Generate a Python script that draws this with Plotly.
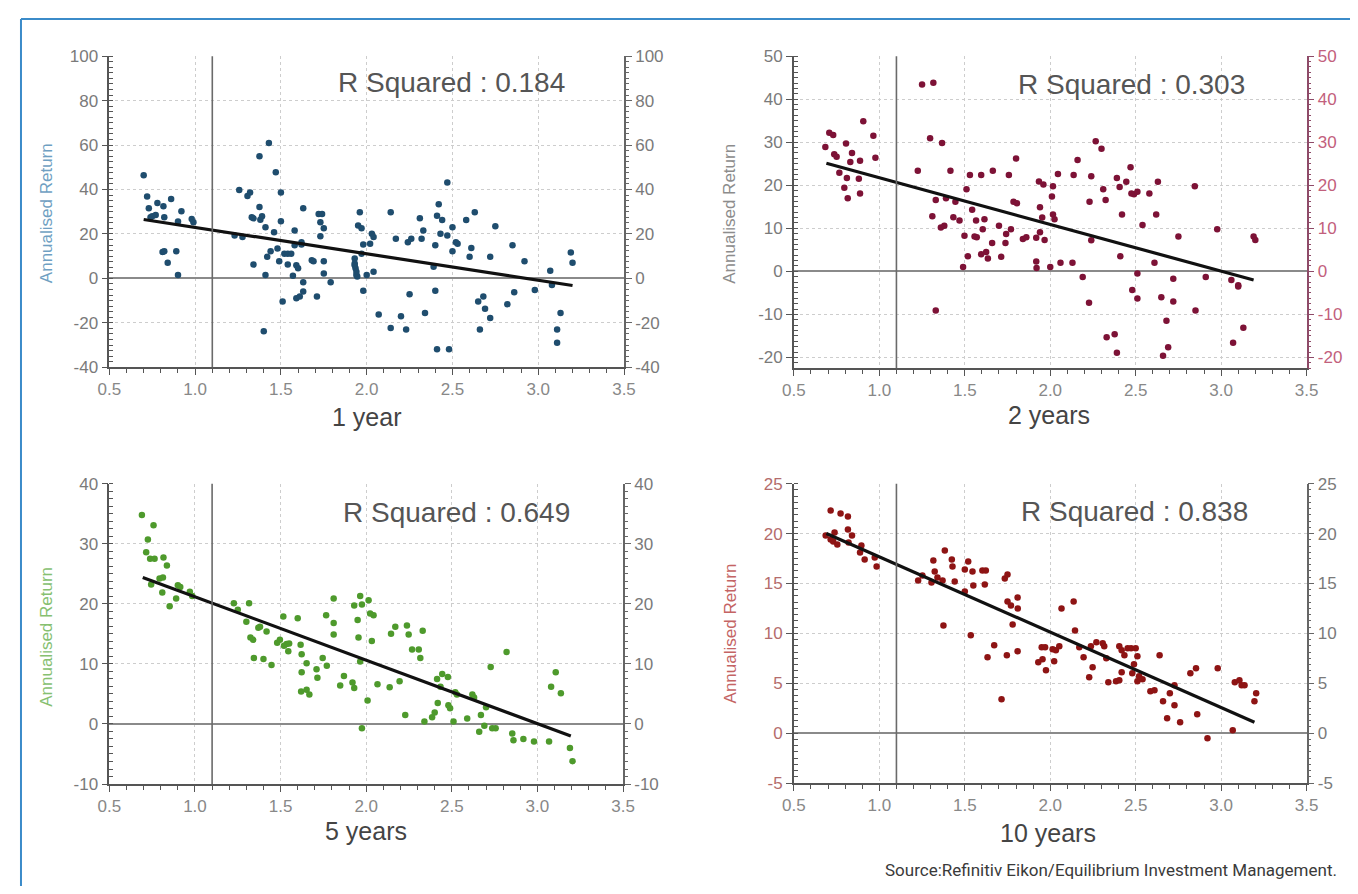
import plotly.graph_objects as go

# target canvas is 1358 x 894; the page body adds an 8 px margin, so the figure is
# sized to fit inside the window and every position is expressed in window pixels.
WIN_W, WIN_H = 1358, 894
OFF = 8
W, H = WIN_W - 2 * OFF, WIN_H - 2 * OFF

# ---------------- data ----------------
# Panel 1: 1 year
x1 = [0.70, 0.72, 0.73, 0.74, 0.75, 0.78, 0.815, 0.82, 0.86, 0.90, 0.92, 0.98, 0.99, 0.81, 0.82,
      0.84, 0.89, 0.90, 0.77, 1.257, 1.276, 1.23, 1.305, 1.32, 1.33, 1.34, 1.34, 1.375, 1.375, 1.38,
      1.39, 1.40, 1.41, 1.41, 1.42, 1.43, 1.44, 1.46, 1.47, 1.48, 1.49, 1.50, 1.50, 1.51, 1.52,
      1.54, 1.54, 1.56, 1.57, 1.58, 1.58, 1.59, 1.60, 1.59, 1.61, 1.62, 1.62, 1.63, 1.63, 1.63,
      1.68, 1.69, 1.71, 1.72, 1.73, 1.73, 1.74, 1.75, 1.75, 1.75, 1.79, 1.93, 1.93, 1.935, 1.94,
      1.945, 1.94, 1.93, 1.95, 1.96, 1.97, 1.98, 1.98, 1.97, 2.00, 2.02, 2.03, 2.04, 2.04, 2.07,
      2.14, 2.14, 2.17, 2.20, 2.23, 2.24, 2.25, 2.26, 2.31, 2.32, 2.33, 2.34, 2.39, 2.40, 2.40,
      2.41, 2.41, 2.42, 2.43, 2.44, 2.47, 2.47, 2.48, 2.50, 2.50, 2.52, 2.53, 2.58, 2.61, 2.60,
      2.63, 2.65, 2.68, 2.69, 2.66, 2.72, 2.72, 2.75, 2.82, 2.85, 2.86, 2.92, 2.98, 3.07, 3.08,
      3.11, 3.11, 3.13, 3.19, 3.20]
y1 = [46.4, 36.8, 31.6, 27.5, 28.0, 33.9, 32.4, 27.5, 35.7, 25.6, 30.2, 26.7, 25.3, 11.9, 12.2,
      7.0, 12.2, 1.5, 28.5, 39.8, 18.6, 19.3, 37.1, 38.6, 27.5, 27.0, 6.2, 55.0, 32.1, 26.4,
      27.9, -23.8, 23.0, 1.5, 9.7, 60.9, 12.2, 20.8, 47.8, 13.4, 7.7, 25.7, 38.6, -10.4, 11.1,
      6.2, 11.1, 11.1, 1.2, 21.5, 14.9, 5.9, 4.5, -8.9, -8.2, 16.3, 15.2, -5.9, -1.8, 31.6,
      8.2, 7.7, -8.2, 29.0, 25.3, 18.9, 29.0, 22.6, 7.7, 2.2, -1.8, 8.9, 6.7, 4.5, 1.5,
      0.8, 3.0, 5.9, 23.8, 29.7, 22.6, 15.2, -5.6, 11.1, 1.5, 15.6, 20.1, 3.0, 18.6, -16.3,
      -22.3, 29.7, 17.8, -17.1, -23.0, 16.3, -7.1, 17.8, 27.0, 17.8, 21.5, -15.6, 5.2, -5.6, 14.9,
      28.2, -31.9, 33.4, 20.1, 26.3, 43.1, 19.3, -31.9, 12.2, 23.0, 16.3, 15.6, 26.3, 13.7, 9.7,
      29.7, -10.4, -8.2, -13.7, -23.0, -17.8, 9.7, 23.5, -11.6, 14.9, -6.2, 7.7, -5.2, 3.4, -3.0,
      -23.0, -29.0, -15.6, 11.6, 7.0]
trend1_x = [0.70, 3.20]
trend1_y = [26.5, -3.2]

# Panel 2: 2 years
x2 = [0.684, 0.707, 0.73, 0.736, 0.75, 0.766, 0.795, 0.805, 0.815, 0.81, 0.83, 0.84, 0.88, 0.887,
      0.887, 0.906, 0.965, 0.977, 1.225, 1.25, 1.316, 1.297, 1.31, 1.33, 1.33, 1.367, 1.36, 1.38,
      1.39, 1.416, 1.433, 1.445, 1.469, 1.49, 1.498, 1.51, 1.518, 1.53, 1.543, 1.557, 1.566, 1.57,
      1.596, 1.605, 1.615, 1.596, 1.625, 1.635, 1.66, 1.664, 1.70, 1.713, 1.738, 1.742, 1.758,
      1.77, 1.785, 1.80, 1.805, 1.84, 1.86, 1.918, 1.918, 1.92, 1.934, 1.94, 1.94, 1.953, 1.96,
      1.967, 2.00, 2.01, 2.016, 2.016, 2.025, 2.045, 2.06, 2.13, 2.137, 2.16, 2.19, 2.227, 2.23,
      2.24, 2.24, 2.266, 2.30, 2.31, 2.324, 2.33, 2.377, 2.39, 2.39, 2.406, 2.41, 2.42, 2.445,
      2.47, 2.475, 2.49, 2.48, 2.51, 2.51, 2.51, 2.54, 2.58, 2.61, 2.62, 2.63, 2.65, 2.68, 2.69,
      2.66, 2.72, 2.72, 2.75, 2.846, 2.85, 2.91, 2.977, 3.06, 3.07, 3.10, 3.10, 3.13, 3.19, 3.20]
y2 = [28.9, 32.2, 31.7, 27.2, 26.6, 22.9, 19.4, 29.7, 17.0, 21.7, 25.4, 27.5, 21.5, 25.7,
      18.1, 34.9, 31.5, 26.4, 23.4, 43.4, 43.8, 30.9, 12.8, -9.1, 16.6, 29.8, 10.2, 10.6,
      17.0, 23.4, 12.6, 16.2, 11.8, 1.0, 8.3, 19.1, 3.5, 22.4, 14.3, 8.1, 11.8, 7.9,
      22.4, 9.8, 12.1, 4.0, 4.5, 3.0, 6.6, 23.4, 10.6, 3.4, 6.6, 8.7, 22.4,
      9.8, 16.2, 26.2, 15.8, 7.5, 7.9, 7.8, 2.3, 0.8, 20.9, 14.9, 9.1, 12.5, 20.2,
      7.3, 1.0, 17.4, 19.8, 13.2, 12.1, 22.6, 2.0, 2.0, 22.4, 25.9, -1.3, -7.3, 16.2,
      22.1, 7.2, 30.2, 28.5, 19.1, 16.6, -15.3, -14.6, -18.9, 21.7, 19.6, 3.5, 13.2, 20.8,
      24.2, 18.1, 17.9, -4.3, -0.5, -6.3, 18.5, 10.8, 18.1, 2.0, 13.2, 20.8, -6.0, -11.5, -17.6,
      -19.6, -1.7, -7.0, 8.1, 19.8, -9.1, -1.3, 9.8, -2.0, -16.6, -3.5, -3.2, -13.1, 8.1, 7.3]
trend2_x = [0.69, 3.19]
trend2_y = [25.1, -2.0]

# Panel 3: 5 years
x3 = [0.69, 0.758, 0.725, 0.715, 0.738, 0.764, 0.816, 0.836, 0.744, 0.793, 0.813, 0.809, 0.852,
      0.89, 0.90, 0.914, 0.97, 0.984, 1.227, 1.25, 1.316, 1.30, 1.324, 1.34, 1.344, 1.38, 1.40,
      1.418, 1.447, 1.48, 1.496, 1.516, 1.545, 1.535, 1.60, 1.617, 1.623, 1.623, 1.652, 1.652,
      1.668, 1.71, 1.715, 1.746, 1.77, 1.766, 1.81, 1.81, 1.81, 1.848, 1.87, 1.92, 1.93, 1.93,
      1.95, 1.955, 1.965, 1.975, 1.965, 1.975, 2.014, 2.023, 2.043, 2.033, 2.008, 2.066, 2.137,
      2.145, 2.17, 2.195, 2.228, 2.238, 2.248, 2.268, 2.307, 2.316, 2.33, 2.34, 2.385, 2.40,
      2.414, 2.418, 2.434, 2.444, 2.477, 2.48, 2.49, 2.51, 2.52, 2.53, 2.59, 2.62, 2.63, 2.66,
      2.67, 2.69, 2.70, 2.727, 2.736, 2.756, 2.82, 2.853, 2.86, 2.918, 2.98, 3.068, 3.08, 3.107,
      3.137, 3.19, 3.205, 1.37, 1.52, 1.55, 1.62]
y3 = [34.8, 33.1, 30.7, 28.6, 27.5, 27.5, 27.7, 26.4, 23.2, 24.2, 24.4, 21.9, 19.6,
      20.9, 23.1, 22.8, 22.0, 21.3, 20.1, 19.0, 20.1, 17.0, 14.4, 14.0, 11.0, 16.2, 10.8,
      15.4, 9.8, 13.5, 14.0, 17.9, 12.1, 13.3, 17.6, 13.2, 11.6, 8.6, 10.1, 5.7,
      4.9, 9.1, 7.7, 11.0, 9.7, 18.1, 20.9, 16.8, 14.9, 6.4, 8.0, 6.9, 6.0, 19.7,
      17.3, 14.4, 21.3, 19.9, 10.4, -0.7, 20.6, 18.4, 18.1, 13.8, 3.9, 6.6, 6.1,
      15.0, 16.2, 7.1, 1.5, 16.4, 14.9, 12.4, 12.4, 11.0, 15.5, 0.4, 1.1, 1.9,
      7.5, 3.5, 6.2, 8.3, 7.8, 3.1, 2.6, 0.4, 5.3, 4.9, 0.9, 4.9, 4.4, -1.3,
      1.5, -0.3, 2.8, 9.5, -0.7, -0.7, 12.0, -1.6, -2.7, -2.5, -2.9, -2.9, 6.2, 8.6,
      5.1, -4.0, -6.2, 16.0, 13.0, 13.4, 5.4]
trend3_x = [0.695, 3.195]
trend3_y = [24.4, -2.0]

# Panel 4: 10 years
x4 = [0.686, 0.715, 0.715, 0.73, 0.738, 0.754, 0.773, 0.816, 0.816, 0.84, 0.82, 0.895, 0.887,
      0.914, 0.973, 0.984, 1.227, 1.252, 1.305, 1.316, 1.324, 1.34, 1.37, 1.383, 1.375, 1.424,
      1.428, 1.441, 1.50, 1.52, 1.545, 1.50, 1.55, 1.535, 1.603, 1.623, 1.617, 1.633, 1.672,
      1.715, 1.734, 1.75, 1.746, 1.75, 1.77, 1.78, 1.809, 1.81, 1.809, 1.93, 1.95, 1.97, 1.975,
      1.955, 2.014, 2.023, 2.033, 2.053, 2.066, 2.137, 2.145, 2.17, 2.195, 2.228, 2.238, 2.248,
      2.27, 2.307, 2.316, 2.328, 2.34, 2.385, 2.404, 2.404, 2.418, 2.418, 2.434, 2.453, 2.473,
      2.49, 2.50, 2.51, 2.48, 2.51, 2.52, 2.54, 2.586, 2.61, 2.64, 2.66, 2.684, 2.70, 2.727,
      2.727, 2.76, 2.82, 2.853, 2.86, 2.92, 2.98, 3.068, 3.08, 3.107, 3.12, 3.137, 3.195, 3.205]
y4 = [19.8, 22.3, 19.4, 19.2, 20.1, 18.9, 22.0, 21.7, 20.4, 19.8, 19.1, 18.8, 18.1,
      17.4, 17.6, 16.7, 15.3, 15.8, 15.1, 17.3, 16.2, 15.6, 15.3, 18.3, 10.8, 17.4,
      16.7, 15.2, 16.4, 17.2, 16.2, 14.2, 14.8, 9.8, 16.3, 16.3, 14.9, 7.6, 8.8,
      3.4, 15.5, 15.9, 7.8, 13.2, 12.8, 10.9, 13.6, 12.5, 8.2, 7.1, 8.6, 8.6, 6.3,
      7.4, 8.4, 7.2, 8.3, 8.7, 12.5, 13.2, 10.3, 8.6, 7.6, 5.6, 8.7, 6.6,
      9.1, 9.0, 8.7, 7.5, 5.1, 5.2, 5.3, 8.7, 8.3, 6.1, 7.8, 8.5, 8.5,
      6.9, 8.5, 7.7, 6.0, 5.2, 5.7, 5.4, 4.2, 4.3, 7.8, 3.2, 1.5, 4.0, 2.8,
      4.8, 1.1, 6.0, 6.5, 1.9, -0.5, 6.5, 0.3, 5.1, 5.3, 4.8, 4.8, 3.2, 4.0]
trend4_x = [0.69, 3.195]
trend4_y = [20.0, 1.1]

x_tick_vals = [0.5, 1.0, 1.5, 2.0, 2.5, 3.0, 3.5]
x_tick_text = ["0.5", "1.0", "1.5", "2.0", "2.5", "3.0", "3.5"]
y_tick_vals = [
    [-40, -20, 0, 20, 40, 60, 80, 100],
    [-20, -10, 0, 10, 20, 30, 40, 50],
    [-10, 0, 10, 20, 30, 40],
    [-5, 0, 5, 10, 15, 20, 25],
]
y_tick_text = [
    ["-40", "-20", "0", "20", "40", "60", "80", "100"],
    ["-20", "-10", "0", "10", "20", "30", "40", "50"],
    ["-10", "0", "10", "20", "30", "40"],
    ["-5", "0", "5", "10", "15", "20", "25"],
]
x_titles = ["1 year", "2 years", "5 years", "10 years"]
r_squared = ["0.184", "0.303", "0.649", "0.838"]
y_ranges = [[-40, 100], [-22.5, 50], [-10, 40], [-5, 25]]
y_minor = [2.5, 1.25, 1.25, 0.625]
benchmark_x = 1.1
source_text = "Source:Refinitiv Eikon/Equilibrium Investment Management."

# ---------------- styling ----------------
FONT = "Liberation Sans, Arial, Helvetica, sans-serif"
marker_colors = ["#1f4d6e", "#7d1236", "#4e9a2c", "#8e1414"]
ytitle_colors = ["#6f9fc2", "#8c8c8c", "#86c070", "#c46464"]
left_tick_colors = ["#7a7a7a", "#7a7a7a", "#7a7a7a", "#b46c6c"]
right_tick_colors = ["#7a7a7a", "#c2607c", "#7a7a7a", "#7a7a7a"]
right_line_colors = ["#666666", "#8e4a68", "#666666", "#666666"]

# panel pixel boxes in window pixels: (left, right, top, bottom)
boxes = [(99, 623, 48, 366), (796, 1318, 48, 367), (99, 622, 485, 792), (796, 1318, 485, 791)]
rsq_pos = [(447, 75), (1140, 77), (452, 514), (1143, 513)]
xtitle_pos = [(361, 417), (1056, 415), (360, 840), (1055, 842)]
ytitle_pos = [(35, 209), (731, 209), (35, 642), (731, 638)]


def px(x):
    return (x - OFF) / W


def py(y):
    return 1 - (y - OFF) / H


xs = [x1, x2, x3, x4]
ys = [y1, y2, y3, y4]
txs = [trend1_x, trend2_x, trend3_x, trend4_x]
tys = [trend1_y, trend2_y, trend3_y, trend4_y]

fig = go.Figure()
layout = dict(
    width=W, height=H, autosize=False,
    margin=dict(l=0, r=0, t=0, b=0, pad=0),
    paper_bgcolor="white", plot_bgcolor="white",
    showlegend=False,
    font=dict(family=FONT, color="#777777"),
    annotations=[], shapes=[],
)

for i in range(4):
    n = i + 1
    xa = "x" if n == 1 else f"x{n}"
    ya = "y" if n == 1 else f"y{n}"
    ya_r = f"y{n + 4}"
    L, R, T, B = boxes[i]
    grid = dict(showgrid=True, gridcolor="#cdcdcd", gridwidth=1, griddash="dot")

    layout[f"xaxis{'' if n == 1 else n}"] = dict(
        domain=[px(L), px(R)], anchor=ya, range=[0.5, 3.5],
        tickmode="array", tickvals=x_tick_vals, ticktext=x_tick_text,
        showline=True, linecolor="#555555", linewidth=1.6,
        ticks="outside", ticklen=6, tickcolor="#555555", tickwidth=1.2,
        minor=dict(tickmode="linear", tick0=0.5, dtick=0.1, ticks="outside", ticklen=4,
                   tickcolor="#555555", showgrid=False),
        tickfont=dict(size=17, color="#888888", family=FONT),
        zeroline=False, fixedrange=True, **grid,
    )
    layout[f"yaxis{'' if n == 1 else n}"] = dict(
        domain=[py(B), py(T)], anchor=xa, range=y_ranges[i],
        tickmode="array", tickvals=y_tick_vals[i], ticktext=y_tick_text[i],
        showline=True, linecolor="#555555", linewidth=1.6,
        ticks="outside", ticklen=6, tickcolor="#555555", tickwidth=1.2,
        minor=dict(tickmode="linear", tick0=0, dtick=y_minor[i], ticks="inside", ticklen=4,
                   tickcolor="#555555", showgrid=False),
        tickfont=dict(size=17, color=left_tick_colors[i], family=FONT),
        zeroline=True, zerolinecolor="#8a8a8a", zerolinewidth=2,
        fixedrange=True, **grid,
    )
    layout[f"yaxis{n + 4}"] = dict(
        overlaying=ya, anchor=xa, side="right", range=y_ranges[i],
        tickmode="array", tickvals=y_tick_vals[i], ticktext=y_tick_text[i],
        showline=True, linecolor=right_line_colors[i], linewidth=1.6,
        ticks="outside", ticklen=6, tickcolor=right_line_colors[i], tickwidth=1.2,
        minor=dict(tickmode="linear", tick0=0, dtick=y_minor[i], ticks="outside", ticklen=3,
                   tickcolor=right_line_colors[i], showgrid=False),
        tickfont=dict(size=17, color=right_tick_colors[i], family=FONT),
        showgrid=False, zeroline=False, fixedrange=True,
    )

    # scatter points
    fig.add_trace(go.Scatter(
        x=xs[i], y=ys[i], mode="markers", xaxis=xa, yaxis=ya,
        marker=dict(size=6.5, color=marker_colors[i], line=dict(width=0)),
        hoverinfo="x+y",
    ))
    # regression line
    fig.add_trace(go.Scatter(
        x=txs[i], y=tys[i], mode="lines", xaxis=xa, yaxis=ya,
        line=dict(color="#111111", width=3.2), hoverinfo="skip",
    ))
    # carrier for the right-hand axis
    fig.add_trace(go.Scatter(
        x=[None], y=[None], mode="markers", xaxis=xa, yaxis=ya_r,
        hoverinfo="skip", showlegend=False,
    ))

    # vertical benchmark line
    layout["shapes"].append(dict(
        type="line", xref=xa, yref=f"{ya} domain", x0=benchmark_x, x1=benchmark_x, y0=0, y1=1,
        line=dict(color="#6a6a6a", width=1.6), layer="above",
    ))

    # R squared text
    rx, ry = rsq_pos[i]
    layout["annotations"].append(dict(
        text=f"R Squared : {r_squared[i]}", xref="paper", yref="paper",
        x=px(rx), y=py(ry), xanchor="center", yanchor="middle", showarrow=False,
        font=dict(size=28, color="#555555", family=FONT),
    ))
    # x title
    tx, ty = xtitle_pos[i]
    layout["annotations"].append(dict(
        text=x_titles[i], xref="paper", yref="paper",
        x=px(tx), y=py(ty), xanchor="center", yanchor="middle", showarrow=False,
        font=dict(size=25, color="#444444", family=FONT),
    ))
    # y title
    yx, yy = ytitle_pos[i]
    layout["annotations"].append(dict(
        text="Annualised Return", xref="paper", yref="paper", textangle=-90,
        x=px(yx), y=py(yy), xanchor="center", yanchor="middle", showarrow=False,
        font=dict(size=17, color=ytitle_colors[i], family=FONT),
    ))

# source line
layout["annotations"].append(dict(
    text=source_text,
    xref="paper", yref="paper", x=px(1351), y=py(880), xanchor="right", yanchor="middle",
    showarrow=False, font=dict(size=17, color="#3a3a3a", family="Roboto, sans-serif"),
))

# blue frame (left and top edges)
frame = dict(color="#3b8bc9", width=2)
layout["shapes"].append(dict(type="line", xref="paper", yref="paper",
                             x0=px(9), x1=px(9), y0=-0.02, y1=py(10), line=frame))
layout["shapes"].append(dict(type="line", xref="paper", yref="paper",
                             x0=px(9), x1=1.02, y0=py(10), y1=py(10), line=frame))

fig.update_layout(**layout)
fig.write_html("out.html")
